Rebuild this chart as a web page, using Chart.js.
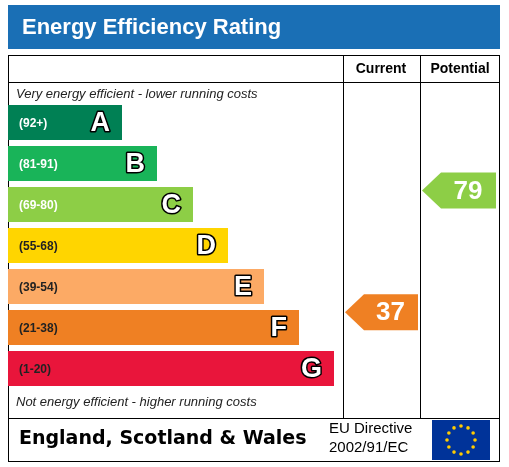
<!DOCTYPE html>
<html><head><meta charset="utf-8">
<script src="https://cdn.jsdelivr.net/npm/chart.js@4"></script>
<style>html,body{margin:0;padding:0;background:#fff}#c{display:block}</style>
</head><body>
<div style="width:509px;height:467px"><canvas id="c" width="509" height="467"></canvas></div>
<script>
const bandLetters = ['A','B','C','D','E','F','G'];
const bandRanges = ['(92+)','(81-91)','(69-80)','(55-68)','(39-54)','(21-38)','(1-20)'];
const bandLo = [92,81,69,55,39,21,1];
const bandHi = [100,91,80,68,54,38,20];
const bandLengths = [114,149,185,220,256,291,326];
const bandColors = ['#008054','#19b459','#8dce46','#ffd500','#fcaa65','#ef8023','#e9153b'];
const currentScore = 37;
const potentialScore = 79;

function bandOf(v){for(let i=0;i<7;i++){if(v>=bandLo[i])return i;}return 6;}

const deco = {
  id:'deco',
  beforeDraw(chart){
    const c=chart.ctx;
    c.save();
    c.fillStyle='#fff';c.fillRect(0,0,509,467);
    c.fillStyle='#1a6fb5';c.fillRect(8,5,492,44);
    c.fillStyle='#fff';c.font='bold 22px "Liberation Sans", Arial';c.textBaseline='middle';
    c.fillText('Energy Efficiency Rating',22,28);
    c.strokeStyle='#000';c.lineWidth=1;
    c.strokeRect(8.5,55.5,491,406);
    c.beginPath();
    c.moveTo(8,82.5);c.lineTo(500,82.5);
    c.moveTo(8,418.5);c.lineTo(500,418.5);
    c.moveTo(343.5,55);c.lineTo(343.5,418);
    c.moveTo(420.5,55);c.lineTo(420.5,418);
    c.stroke();
    c.fillStyle='#000';c.font='bold 14px "Liberation Sans", Arial';c.textAlign='center';
    c.fillText('Current',381,69);c.fillText('Potential',460,69);
    c.textAlign='left';c.font='italic 13px "Liberation Sans", Arial';c.fillStyle='#222';
    c.fillText('Very energy efficient - lower running costs',16,94);
    c.fillText('Not energy efficient - higher running costs',16,402);
    c.fillStyle='#000';c.font='bold 19px "DejaVu Sans", Arial';
    c.fillText('England, Scotland & Wales',19,439);
    c.font='15px "Liberation Sans", Arial';
    c.fillText('EU Directive',329,429);c.fillText('2002/91/EC',329,448);
    c.fillStyle='#003399';c.fillRect(432,420,58,40);
    c.fillStyle='#ffcc00';
    for(let k=0;k<12;k++){const a=k*Math.PI/6;const x=461+14*Math.cos(a),y=440+14*Math.sin(a);
      c.beginPath();c.arc(x,y,1.8,0,Math.PI*2);c.fill();}
    c.restore();
  },
  afterDatasetsDraw(chart){
    const c=chart.ctx,ys=chart.scales.y,xs=chart.scales.x;
    c.save();
    for(let i=0;i<7;i++){
      const y=ys.getPixelForValue(i);
      c.font='bold 12px "Liberation Sans", Arial';c.textBaseline='middle';c.textAlign='left';
      c.fillStyle = i<3 ? '#fff' : '#222';
      c.fillText(bandRanges[i],19,y+1);
      c.font='bold 27px "Liberation Sans", Arial';c.textAlign='right';
      c.lineWidth=3;c.strokeStyle='#000';c.lineJoin='round';
      const xe=xs.getPixelForValue(bandLengths[i])-12;
      c.strokeText(bandLetters[i],xe,y+1);c.fillStyle='#fff';c.fillText(bandLetters[i],xe,y+1);
    }
    function arrow(v,x0,x1){
      const b=bandOf(v);const h=ys.getPixelForValue(1)-ys.getPixelForValue(0);
      const y=ys.getPixelForValue(b)-h/2+(bandHi[b]-v)/(bandHi[b]-bandLo[b]+1)*h+3;
      c.fillStyle=bandColors[b];c.beginPath();
      c.moveTo(x0,y);c.lineTo(x0+19,y-18);c.lineTo(x1,y-18);c.lineTo(x1,y+18);c.lineTo(x0+19,y+18);c.closePath();c.fill();
      c.fillStyle='#fff';c.font='bold 26px "Liberation Sans", Arial';c.textAlign='center';c.textBaseline='middle';
      c.fillText(String(v),x0+(x1-x0)/2+9,y+1);
    }
    arrow(currentScore,345,418);
    arrow(potentialScore,422,496);
    c.restore();
  }
};

new Chart(document.getElementById('c'),{
  type:'bar',
  data:{labels:bandLetters,datasets:[{data:bandLengths,backgroundColor:bandColors,barPercentage:0.85,categoryPercentage:1,borderWidth:0}]},
  options:{indexAxis:'y',responsive:false,animation:false,devicePixelRatio:1,
    layout:{padding:{left:8,right:166,top:102,bottom:78}},
    plugins:{legend:{display:false},tooltip:{enabled:false}},
    scales:{x:{display:false,min:0,max:335},y:{display:false}}},
  plugins:[deco]
});
</script></body></html>
